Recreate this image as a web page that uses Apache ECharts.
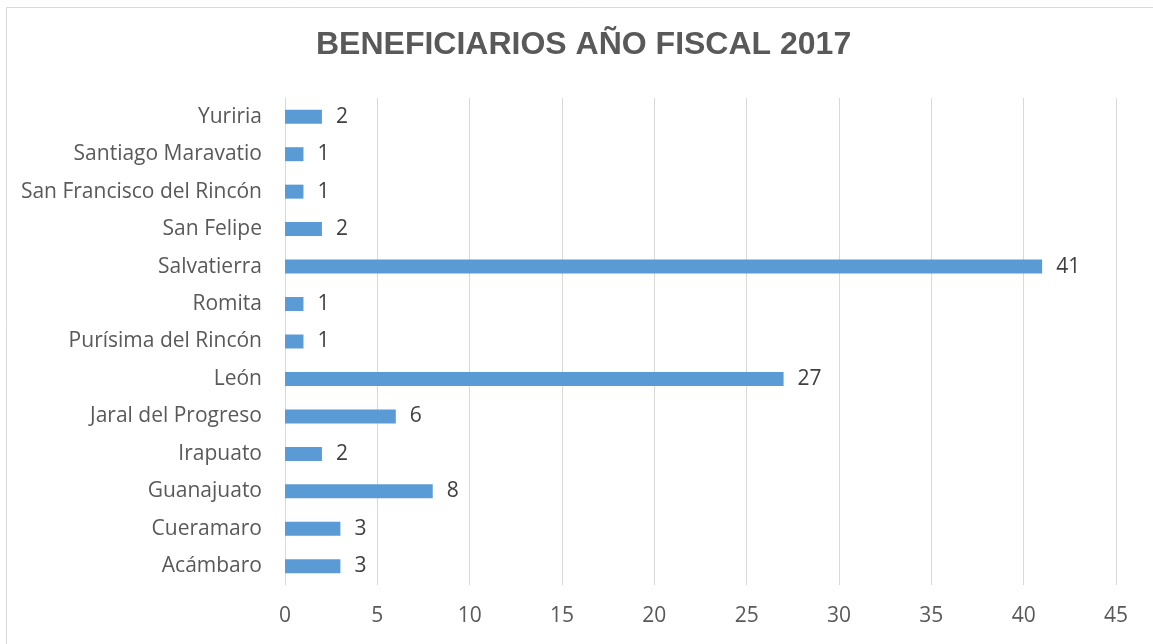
<!DOCTYPE html>
<html>
<head>
<meta charset="utf-8">
<script src="https://cdn.jsdelivr.net/npm/echarts@6/dist/echarts.min.js"></script>
<style>
  html, body { margin: 0; padding: 0; background: #fff; }
  #main { width: 1153px; height: 644px; }
</style>
</head>
<body>
<div id="main"></div>
<script>
// municipios (de abajo hacia arriba)
var municipios = ['Acámbaro', 'Cueramaro', 'Guanajuato', 'Irapuato', 'Jaral del Progreso', 'León',
    'Purísima del Rincón', 'Romita', 'Salvatierra', 'San Felipe', 'San Francisco del Rincón',
    'Santiago Maravatio', 'Yuriria'];
var beneficiarios = [3, 3, 8, 2, 6, 27, 1, 1, 41, 2, 1, 1, 2];

var fuente = '"Open Sans", "Noto Sans", sans-serif';

var myChart = echarts.init(document.getElementById('main'));

var option = {
    backgroundColor: '#fff',
    animation: false,
    title: {
        text: 'BENEFICIARIOS AÑO FISCAL 2017',
        left: 311,
        top: 24,
        textStyle: { fontFamily: 'Arial, "Liberation Sans", sans-serif', fontSize: 32, fontWeight: 'bold', color: '#595959' }
    },
    graphic: [{
        type: 'rect',
        shape: { x: 6.5, y: 7.5, width: 1200, height: 700 },
        style: { fill: 'none', stroke: '#d9d9d9', lineWidth: 1 },
        silent: true
    }],
    grid: { left: 285, right: 37, top: 98, bottom: 59 },
    xAxis: {
        type: 'value',
        min: 0,
        max: 45,
        interval: 5,
        axisLine: { show: false },
        axisTick: { show: false },
        splitLine: { lineStyle: { color: '#d9d9d9', width: 1 } },
        axisLabel: { fontFamily: fuente, fontSize: 21, color: '#595959', margin: 21 }
    },
    yAxis: {
        type: 'category',
        data: municipios,
        axisLine: { show: true, lineStyle: { color: '#d9d9d9' } },
        axisTick: { show: false },
        axisLabel: { fontFamily: fuente, fontSize: 21, color: '#595959', margin: 23, padding: [3, 0, 0, 0] }
    },
    series: [{
        type: 'bar',
        data: beneficiarios,
        barWidth: 14,
        itemStyle: { color: '#5b9bd5' },
        label: {
            show: true,
            position: 'right',
            distance: 14,
            padding: [3, 0, 0, 0],
            fontFamily: fuente,
            fontSize: 21,
            color: '#404040'
        }
    }]
};

myChart.setOption(option);
</script>
</body>
</html>
